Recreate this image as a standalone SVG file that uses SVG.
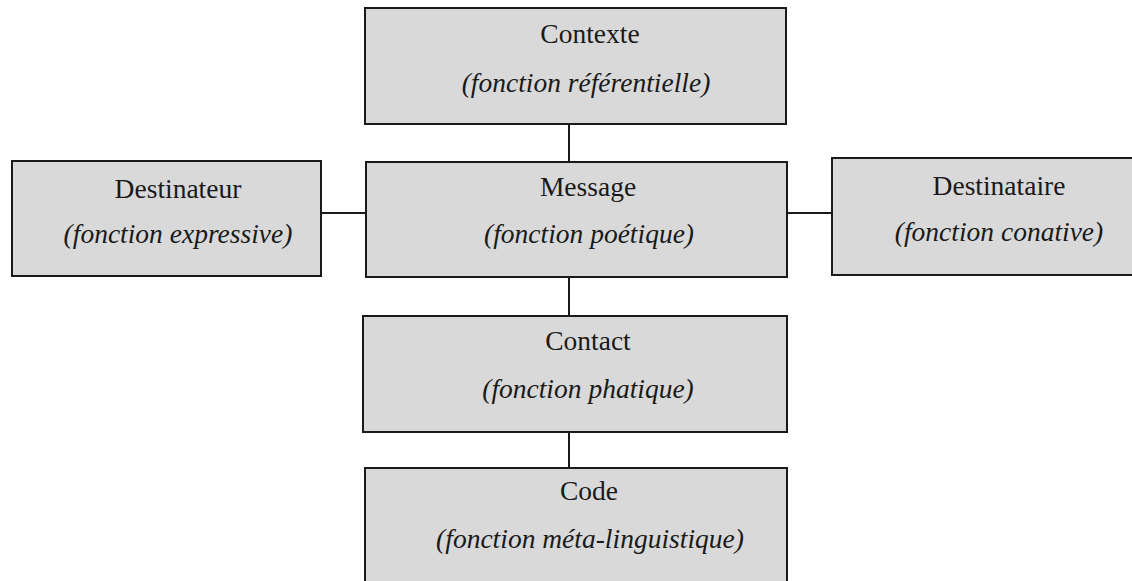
<svg xmlns="http://www.w3.org/2000/svg" width="1132" height="581" viewBox="0 0 1132 581">
<style>
.box{fill:#d9d9d9;stroke:#1a1a1a;stroke-width:2}
.t{font-family:"Liberation Serif","Times New Roman",serif;font-size:27.5px;fill:#1a1a1a;text-anchor:middle}
.i{font-style:italic}
.c{stroke:#1a1a1a;stroke-width:2;fill:none}
</style>
<rect width="1132" height="581" fill="#ffffff"/>
<g id="connectors">
<line class="c" x1="569" y1="124" x2="569" y2="162"/>
<line class="c" x1="569" y1="277" x2="569" y2="316"/>
<line class="c" x1="569" y1="432" x2="569" y2="468"/>
<line class="c" x1="321" y1="213" x2="366" y2="213"/>
<line class="c" x1="787" y1="213" x2="832" y2="213"/>
</g>
<g id="contexte">
<rect class="box" x="365" y="8" width="421" height="116"/>
<text class="t" x="590" y="43">Contexte</text>
<text class="t i" x="586" y="92">(fonction référentielle)</text>
</g>
<g id="destinateur">
<rect class="box" x="12" y="161" width="309" height="115"/>
<text class="t" x="178" y="198">Destinateur</text>
<text class="t i" x="178" y="243">(fonction expressive)</text>
</g>
<g id="message">
<rect class="box" x="366" y="162" width="421" height="115"/>
<text class="t" x="588" y="196">Message</text>
<text class="t i" x="589" y="243">(fonction poétique)</text>
</g>
<g id="destinataire">
<rect class="box" x="832" y="158" width="304" height="117"/>
<text class="t" x="999" y="195">Destinataire</text>
<text class="t i" x="999" y="241">(fonction conative)</text>
</g>
<g id="contact">
<rect class="box" x="363" y="316" width="424" height="116"/>
<text class="t" x="588" y="350">Contact</text>
<text class="t i" x="588" y="398">(fonction phatique)</text>
</g>
<g id="code">
<rect class="box" x="365" y="468" width="422" height="124"/>
<text class="t" x="589" y="500">Code</text>
<text class="t i" x="590" y="548">(fonction méta-linguistique)</text>
</g>
</svg>
